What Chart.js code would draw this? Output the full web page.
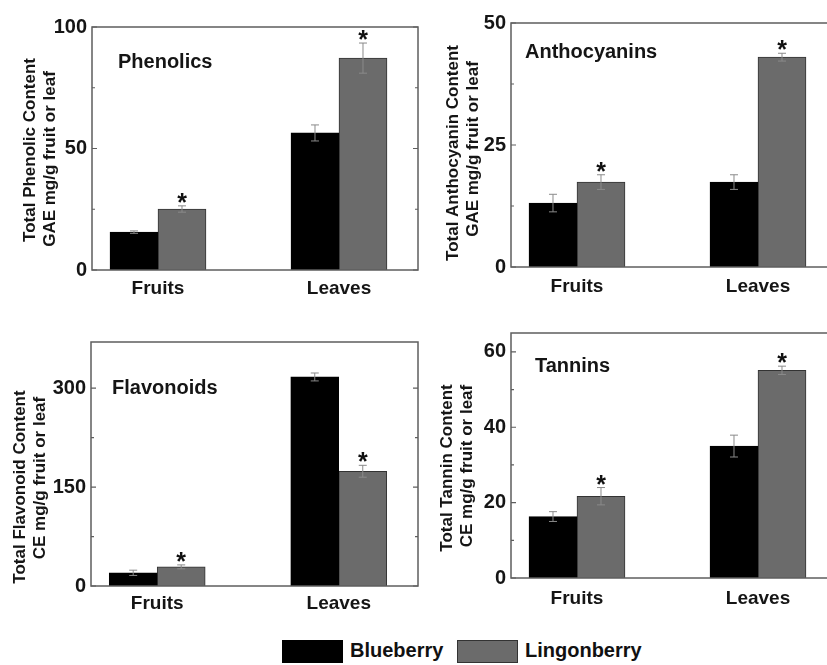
<!DOCTYPE html>
<html><head><meta charset="utf-8">
<script src="https://cdn.jsdelivr.net/npm/chart.js@4"></script>
<style>
html,body{margin:0;padding:0;background:#fff;overflow:hidden;width:827px;height:665px;position:relative;}
canvas.panel{position:absolute;}
.lg-box{position:absolute;box-sizing:border-box;border:1px solid #222;}
.lg-txt{position:absolute;font:bold 20px "Liberation Sans",Arial,sans-serif;color:#111;line-height:23px;white-space:nowrap;}
</style></head><body>
<canvas id="c1" class="panel" style="left:0px;top:0px;width:420px;height:310px" width="420" height="310"></canvas>
<canvas id="c2" class="panel" style="left:420px;top:0px;width:420px;height:310px" width="420" height="310"></canvas>
<canvas id="c3" class="panel" style="left:0px;top:310px;width:420px;height:320px" width="420" height="320"></canvas>
<canvas id="c4" class="panel" style="left:420px;top:310px;width:420px;height:320px" width="420" height="320"></canvas>
<div id="legend"></div>
<script>
// ---------- data ----------
const categories = ['Fruits', 'Leaves'];
const seriesNames = ['Blueberry', 'Lingonberry'];
const seriesColors = ['#000000', '#6b6b6b'];
const seriesBorders = ['#000000', '#333333'];

const phenolicsBlue = [15.6, 56.4];
const phenolicsBlueErr = [0.5, 3.3];
const phenolicsLingon = [25.1, 87.2];
const phenolicsLingonErr = [1.3, 6.2];
const phenolicsTicks = [0, 50, 100];
const phenolicsMinor = [25, 75];

const anthocyaninsBlue = [13.1, 17.4];
const anthocyaninsBlueErr = [1.8, 1.5];
const anthocyaninsLingon = [17.4, 43.0];
const anthocyaninsLingonErr = [1.5, 0.8];
const anthocyaninsTicks = [0, 25, 50];
const anthocyaninsMinor = [12.5, 37.5];

const flavonoidsBlue = [20, 317];
const flavonoidsBlueErr = [4, 6];
const flavonoidsLingon = [29, 174];
const flavonoidsLingonErr = [3, 9];
const flavonoidsTicks = [0, 150, 300];
const flavonoidsMinor = [75, 225];

const tanninsBlue = [16.3, 35.0];
const tanninsBlueErr = [1.3, 2.9];
const tanninsLingon = [21.7, 55.1];
const tanninsLingonErr = [2.3, 1.1];
const tanninsTicks = [0, 20, 40, 60];
const tanninsMinor = [10, 30, 50];

const blueSignificant = [false, false];
const lingonSignificant = [true, true];

// ---------- drawing ----------
const FONT = '"Liberation Sans", Arial, sans-serif';
const TEXT = '#151515';

const decor = {
  id: 'decor',
  afterDatasetsDraw(chart) {
    const o = chart.options.plugins.decor;
    const {ctx, chartArea: a, scales: {y}} = chart;
    ctx.save();
    // error bars + significance marks
    chart.data.datasets.forEach((ds, di) => {
      const meta = chart.getDatasetMeta(di);
      meta.data.forEach((bar, i) => {
        const v = ds.data[i].y, e = ds.err[i];
        const yt = y.getPixelForValue(v + e), yb = y.getPixelForValue(v - e);
        const cx = bar.x;
        ctx.strokeStyle = '#8a8a8a';
        ctx.lineWidth = 1;
        ctx.beginPath();
        ctx.moveTo(cx, yt); ctx.lineTo(cx, yb);
        ctx.moveTo(cx - 4, yt); ctx.lineTo(cx + 4, yt);
        ctx.moveTo(cx - 4, yb); ctx.lineTo(cx + 4, yb);
        ctx.stroke();
        if (ds.sig[i]) {
          ctx.fillStyle = '#111';
          ctx.font = 'bold 25px ' + FONT;
          ctx.textAlign = 'center';
          ctx.textBaseline = 'alphabetic';
          ctx.fillText('*', cx, yt + 5);
        }
      });
    });
    // frame
    ctx.strokeStyle = '#5e5e5e';
    ctx.lineWidth = 1.5;
    ctx.strokeRect(a.left, a.top, a.right - a.left, a.bottom - a.top);
    // inward ticks
    ctx.lineWidth = 1.2;
    ctx.beginPath();
    o.major.forEach(t => {
      const p = y.getPixelForValue(t);
      ctx.moveTo(a.left, p); ctx.lineTo(a.left + 5, p);
      ctx.moveTo(a.right, p); ctx.lineTo(a.right - 5, p);
    });
    o.minor.forEach(t => {
      const p = y.getPixelForValue(t);
      ctx.moveTo(a.left, p); ctx.lineTo(a.left + 3, p);
      ctx.moveTo(a.right, p); ctx.lineTo(a.right - 3, p);
    });
    ctx.stroke();
    // panel label
    ctx.fillStyle = TEXT;
    ctx.font = 'bold 20px ' + FONT;
    ctx.textAlign = 'left';
    ctx.textBaseline = 'middle';
    ctx.fillText(o.label, a.left + o.labelDx, a.top + o.labelDy);
    // rotated y-axis title lines
    ctx.font = 'bold 17px ' + FONT;
    ctx.textAlign = 'center';
    o.titleLines.forEach(l => {
      ctx.save();
      ctx.translate(l.x, l.y);
      ctx.rotate(-Math.PI / 2);
      ctx.fillText(l.text, 0, 0);
      ctx.restore();
    });
    ctx.restore();
  }
};

function makePanel(id, p) {
  const mk = (vals, errs, sig, si) => ({
    label: seriesNames[si],
    data: categories.map((c, i) => ({x: i + 1, y: vals[i]})),
    err: errs, sig: sig,
    backgroundColor: seriesColors[si],
    borderColor: seriesBorders[si],
    borderWidth: 1,
    barThickness: 48
  });
  new Chart(document.getElementById(id), {
    type: 'bar',
    data: {datasets: [
      mk(p.blue, p.blueErr, blueSignificant, 0),
      mk(p.lingon, p.lingonErr, lingonSignificant, 1)
    ]},
    options: {
      responsive: false, animation: false,
      layout: {padding: {top: p.top, right: p.right, left: 0, bottom: 0}},
      plugins: {
        legend: {display: false}, tooltip: {enabled: false},
        decor: {major: p.ticks, minor: p.minor, label: p.label, labelDx: p.labelDx, labelDy: p.labelDy, titleLines: p.titleLines}
      },
      scales: {
        x: {
          type: 'linear', min: 0.6354, max: 2.4365, offset: false,
          grid: {display: false, drawTicks: false}, border: {display: false},
          afterBuildTicks: s => { s.ticks = categories.map((c, i) => ({value: i + 1})); },
          afterFit: s => { s.height = p.xh; },
          ticks: {
            padding: p.xpad, color: TEXT, maxRotation: 0, autoSkip: false,
            font: {family: FONT, size: 19, weight: 'bold'},
            callback: v => categories[Math.round(v) - 1]
          }
        },
        y: {
          min: 0, max: p.ymax,
          grid: {display: false, drawTicks: false}, border: {display: false},
          afterBuildTicks: s => { s.ticks = p.ticks.map(v => ({value: v})); },
          afterFit: s => { s.width = p.yw; },
          ticks: {padding: 5, color: TEXT, font: {family: FONT, size: 20, weight: 'bold'}}
        }
      }
    },
    plugins: [decor]
  });
}

makePanel('c1', {
  blue: phenolicsBlue, blueErr: phenolicsBlueErr, lingon: phenolicsLingon, lingonErr: phenolicsLingonErr,
  ticks: phenolicsTicks, minor: phenolicsMinor, ymax: 100,
  yw: 92, top: 27, right: 2, xh: 40, xpad: 7,
  label: 'Phenolics', labelDx: 26, labelDy: 35,
  titleLines: [{text: 'Total Phenolic Content', x: 30, y: 150}, {text: 'GAE mg/g fruit or leaf', x: 50, y: 159}]
});
makePanel('c2', {
  blue: anthocyaninsBlue, blueErr: anthocyaninsBlueErr, lingon: anthocyaninsLingon, lingonErr: anthocyaninsLingonErr,
  ticks: anthocyaninsTicks, minor: anthocyaninsMinor, ymax: 50,
  yw: 91, top: 23, right: 3, xh: 43, xpad: 8,
  label: 'Anthocyanins', labelDx: 14, labelDy: 29,
  titleLines: [{text: 'Total Anthocyanin Content', x: 33, y: 153}, {text: 'GAE mg/g fruit or leaf', x: 53, y: 149}]
});
makePanel('c3', {
  blue: flavonoidsBlue, blueErr: flavonoidsBlueErr, lingon: flavonoidsLingon, lingonErr: flavonoidsLingonErr,
  ticks: flavonoidsTicks, minor: flavonoidsMinor, ymax: 370,
  yw: 91, top: 32, right: 2, xh: 44, xpad: 6,
  label: 'Flavonoids', labelDx: 21, labelDy: 46,
  titleLines: [{text: 'Total Flavonoid Content', x: 20, y: 177}, {text: 'CE mg/g fruit or leaf', x: 40, y: 168}]
});
makePanel('c4', {
  blue: tanninsBlue, blueErr: tanninsBlueErr, lingon: tanninsLingon, lingonErr: tanninsLingonErr,
  ticks: tanninsTicks, minor: tanninsMinor, ymax: 65,
  yw: 91, top: 23, right: 3, xh: 52, xpad: 9,
  label: 'Tannins', labelDx: 24, labelDy: 33,
  titleLines: [{text: 'Total Tannin Content', x: 27, y: 158}, {text: 'CE mg/g fruit or leaf', x: 47, y: 156}]
});

// ---------- legend ----------
const legendPos = [{box: 282, text: 350}, {box: 457, text: 525}];
const lg = document.getElementById('legend');
seriesNames.forEach((n, i) => {
  const b = document.createElement('div');
  b.className = 'lg-box';
  b.style.cssText = `left:${legendPos[i].box}px;top:640px;width:61px;height:23px;background:${seriesColors[i]};border-color:${seriesBorders[i]}`;
  lg.appendChild(b);
  const t = document.createElement('div');
  t.className = 'lg-txt';
  t.style.cssText = `left:${legendPos[i].text}px;top:639px;`;
  t.textContent = n;
  lg.appendChild(t);
});
</script>
</body></html>
